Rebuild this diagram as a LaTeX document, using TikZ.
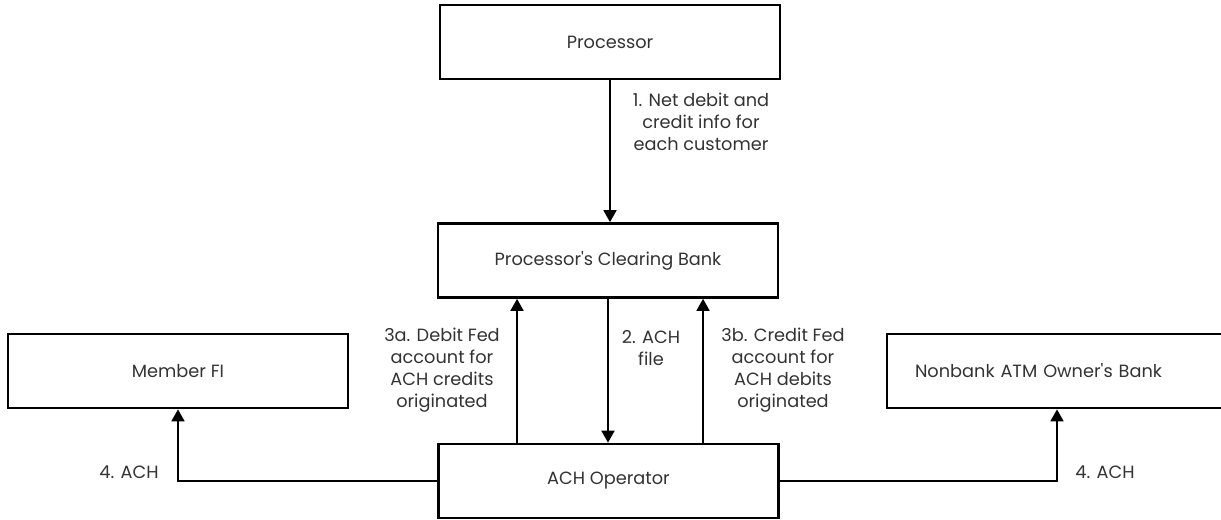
\documentclass[tikz,border=0pt]{standalone}
\usepackage{fontspec}
\setmainfont{Poppins}
\usetikzlibrary{arrows.meta}
\begin{document}
\begin{tikzpicture}[x=0.75pt, y=-0.75pt,
	box style/.style={rectangle, draw, line width=1.9pt, minimum width=255pt, minimum height=55.5pt, inner sep=0pt, font=\fontsize{13.3}{16}\selectfont, text=black!80},
	label style/.style={align=center, inner sep=0pt, font=\fontsize{13.3}{16.5}\selectfont, text=black!80},
	arrow style/.style={-{Triangle[length=9pt, width=9.5pt]}, line width=1.9pt}]
	\useasboundingbox (0, 0) rectangle (1221, 519);
	\node[box style] (proc) at (610, 42) {Processor};
	\node[box style] (pcb) at (608, 260.5) {Processor\textquotesingle s Clearing Bank};
	\node[box style] (fi) at (178, 371) {Member FI};
	\node[box style] (acho) at (608.5, 481) {ACH Operator};
	\node[box style, text width=213pt, inner xsep=21pt, align=left] (atm) at (1057, 371) {Nonbank ATM Owner\textquotesingle s Bank};
	\node[label style] (L1) at (701, 122) {1. Net debit and\\credit info for\\each customer};
	\node[label style] (L3a) at (442, 370) {3a. Debit Fed\\account for\\ACH credits\\originated};
	\node[label style] (L2) at (651, 348) {2. ACH\\file};
	\node[label style] (L3b) at (783, 370) {3b. Credit Fed\\account for\\ACH debits\\originated};
	\node[label style] (L4a) at (129, 472) {4. ACH};
	\node[label style] (L4b) at (1105, 472) {4. ACH};
	\draw[arrow style] (proc.south) -- (proc.south |- pcb.north);
	\draw[arrow style] (pcb.south) -- (pcb.south |- acho.north);
	\draw[arrow style] ([xshift=-68.6pt]acho.north) -- ([xshift=-68.6pt]acho.north |- pcb.south);
	\draw[arrow style] ([xshift=70.9pt]acho.north) -- ([xshift=70.9pt]acho.north |- pcb.south);
	\draw[arrow style] (acho.west) -| (fi.south);
	\draw[arrow style] (acho.east) -| (atm.south);
\end{tikzpicture}
\end{document}
